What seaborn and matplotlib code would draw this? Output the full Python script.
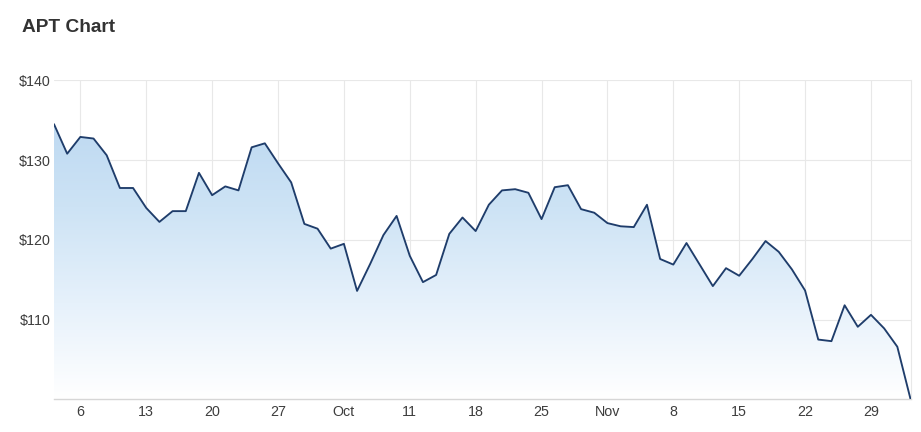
import numpy as np
import pandas as pd
import matplotlib
matplotlib.use("Agg")
import matplotlib.pyplot as plt
import seaborn as sns
from matplotlib.colors import LinearSegmentedColormap
from matplotlib.patches import PathPatch

# ---- data -------------------------------------------------------------
dates = pd.bdate_range("2021-09-02", "2021-12-02")  # trading days (ordinal axis)
prices = [
    134.5, 130.8, 132.9, 132.7, 130.6, 126.5, 126.5, 124.0, 122.25, 123.6,
    123.6, 128.4, 125.6, 126.7, 126.2, 131.6, 132.1, 129.6, 127.2, 122.0,
    121.4, 118.9, 119.5, 113.6, 117.0, 120.6, 123.0, 118.0, 114.7, 115.6,
    120.75, 122.8, 121.1, 124.4, 126.2, 126.35, 125.9, 122.6, 126.6, 126.85,
    123.85, 123.4, 122.1, 121.7, 121.6, 124.4, 117.6, 116.9, 119.6, 116.9,
    114.2, 116.45, 115.5, 117.6, 119.85, 118.5, 116.3, 113.65, 107.5, 107.3,
    111.8, 109.1, 110.6, 108.9, 106.6, 100.05,
]
tick_dates = ["2021-09-06", "2021-09-13", "2021-09-20", "2021-09-27",
              "2021-10-04", "2021-10-11", "2021-10-18", "2021-10-25",
              "2021-11-01", "2021-11-08", "2021-11-15", "2021-11-22",
              "2021-11-29"]
tick_labels = ["6", "13", "20", "27", "Oct", "11", "18", "25",
               "Nov", "8", "15", "22", "29"]
y_ticks = [110, 120, 130, 140]
y_labels = ["$110", "$120", "$130", "$140"]
title = "APT Chart"

# ---- style ------------------------------------------------------------
sns.set_theme(style="white")
plt.rcParams["font.family"] = ["Liberation Sans", "DejaVu Sans"]

W, H = 921, 432
fig = plt.figure(figsize=(W / 100, H / 100), dpi=100)
ax = fig.add_axes([54 / W, 32.6 / H, 856.5 / W, 319.1 / H])

df = pd.DataFrame({"idx": np.arange(len(prices)), "price": prices})
ymin, ymax = 100, 140

# gradient area under line
poly = ax.fill_between(df["idx"], df["price"], ymin, color="none", lw=0)
grad = np.linspace(1, 0, 256).reshape(-1, 1)
cmap = LinearSegmentedColormap.from_list("g", ["#ffffff", "#e6f1fb", "#cde3f5", "#bcd8f1"])
im = ax.imshow(grad, extent=[0, len(prices) - 1, ymin, 136], aspect="auto",
               cmap=cmap, origin="upper", zorder=1, interpolation="bilinear")
patch = PathPatch(poly.get_paths()[0], transform=ax.transData,
                  facecolor="none", edgecolor="none")
ax.add_patch(patch)
im.set_clip_path(patch)

sns.lineplot(data=df, x="idx", y="price", ax=ax, color="#1f3d6b",
             linewidth=1.35, zorder=3)

# axes
pos = dates.get_indexer(pd.to_datetime(tick_dates))
ax.set_xticks(pos)
ax.set_xticklabels(tick_labels)
ax.set_yticks(y_ticks)
ax.set_yticklabels(y_labels)
ax.set_xlim(0, len(prices) - 1)
ax.set_ylim(ymin, ymax)
ax.set_xlabel("")
ax.set_ylabel("")
ax.grid(True, color="#e8e8e8", linewidth=0.8, zorder=0)
ax.set_axisbelow(True)
for s in ["left", "top"]:
    ax.spines[s].set_visible(False)
ax.spines["right"].set_color("#e8e8e8")
ax.spines["right"].set_linewidth(0.8)
ax.spines["bottom"].set_color("#d6d6d6")
ax.spines["bottom"].set_linewidth(1.0)
ax.tick_params(axis="both", length=0, labelsize=10.3, colors="#3d3d3d")
ax.tick_params(axis="y", pad=2.5)
ax.tick_params(axis="x", pad=4)

fig.text(22 / W, 1 - 27 / H, title, fontsize=13.8, fontweight="bold",
         ha="left", va="center", color="#333333")

fig.savefig("out.png", dpi=100)
